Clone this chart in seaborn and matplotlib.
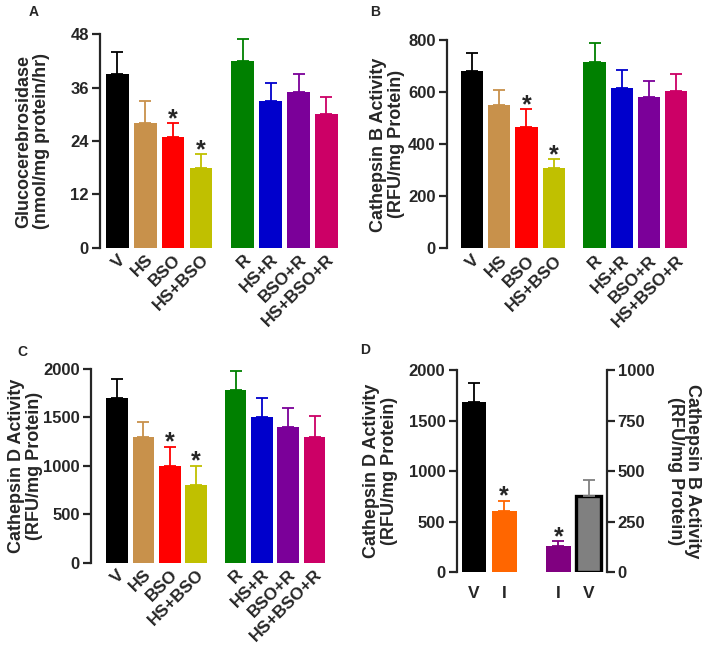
import matplotlib
matplotlib.use("Agg")
import matplotlib.pyplot as plt
import seaborn as sns
import pandas as pd

# groups and bar colours for panels A-C
groups = ["V", "HS", "BSO", "HS+BSO", "R", "HS+R", "BSO+R", "HS+BSO+R"]
xpos = [0, 1, 2, 3, 4.5, 5.5, 6.5, 7.5]
colors = ["#000000", "#C8914B", "#FF0000", "#C0C000",
          "#008000", "#0000CC", "#7B0099", "#CC0066"]
stars = [False, False, True, True, False, False, False, False]

# panel A - glucocerebrosidase
gcase_mean = [39, 28, 25, 18, 42, 33, 35, 30]
gcase_err = [5, 5, 3, 3, 5, 4, 4, 4]
# panel B - cathepsin B
catb_mean = [680, 550, 468, 308, 718, 618, 580, 603]
catb_err = [72, 57, 67, 35, 72, 67, 64, 69]
# panel C - cathepsin D
catd_mean = [1700, 1300, 1000, 800, 1780, 1500, 1400, 1300]
catd_err = [200, 150, 200, 200, 195, 200, 200, 220]

# panel D - two scales
d_labels = ["V", "I", "I", "V"]
d_pos = [0, 1, 2.8, 3.8]
d_colors = ["#000000", "#FF6600", "#800080", "#808080"]
d_stars = [False, True, True, False]
d_catd_mean = [1680, 600]
d_catd_err = [195, 108]
d_catb_mean = [127, 375]
d_catb_err = [26, 80]

sns.set_style("ticks")
plt.rcParams["font.family"] = ["Liberation Sans", "DejaVu Sans"]
plt.rcParams["font.weight"] = "bold"
plt.rcParams["axes.labelweight"] = "bold"


def draw_bars(ax, pos, means, errs, cols, sig):
    df = pd.DataFrame({"x": pos, "y": means, "g": [str(i) for i in range(len(pos))]})
    sns.barplot(data=df, x="x", y="y", hue="g", palette=cols, native_scale=True,
                saturation=1, width=0.82, legend=False, linewidth=0, ax=ax)
    for i in range(len(pos)):
        ax.errorbar(pos[i], means[i], yerr=[[0], [errs[i]]], fmt="none",
                    ecolor=cols[i], elinewidth=1.3, capsize=4.5, capthick=1.3)
        if sig[i]:
            ax.annotate("*", (pos[i], means[i] + errs[i]), xytext=(0, -2),
                        textcoords="offset points", ha="center", va="baseline",
                        fontsize=18, fontweight="bold")


def style_axis(ax, ylim, yticks, ylabel, labelx):
    ax.set_ylim(ylim)
    ax.set_yticks(yticks)
    ax.set_ylabel(ylabel, fontsize=13, linespacing=1.05)
    ax.yaxis.set_label_coords(labelx, 0.5)
    ax.set_xlabel("")
    sns.despine(ax=ax, bottom=True)
    ax.spines["left"].set_linewidth(1.6)
    ax.tick_params(axis="y", width=1.6, length=6, labelsize=12, pad=2)
    ax.tick_params(axis="x", length=0, labelsize=12.5, pad=3)


def group_panel(rect, means, errs, ylim, yticks, ylabel, xlim, labelx):
    ax = fig.add_axes(rect)
    draw_bars(ax, xpos, means, errs, colors, stars)
    style_axis(ax, ylim, yticks, ylabel, labelx)
    ax.set_xticks(xpos)
    ax.set_xticklabels(groups, rotation=45, ha="right", rotation_mode="anchor")
    ax.set_xlim(xlim)
    return ax


fig = plt.figure(figsize=(7.09, 6.59), dpi=100)

group_panel([0.141, 0.624, 0.336, 0.324], gcase_mean, gcase_err, (0, 48),
            [0, 12, 24, 36, 48], "Glucocerebrosidase\n(nmol/mg protein/hr)",
            (-0.62, 7.92), -0.21)
group_panel([0.630, 0.623, 0.340, 0.316], catb_mean, catb_err, (0, 800),
            [0, 200, 400, 600, 800], "Cathepsin B Activity\n(RFU/mg Protein)",
            (-0.93, 7.92), -0.173)
group_panel([0.128, 0.146, 0.332, 0.294], catd_mean, catd_err, (0, 2000),
            [0, 500, 1000, 1500, 2000], "Cathepsin D Activity\n(RFU/mg Protein)",
            (-1.0, 7.94), -0.203)

# panel D
axd = fig.add_axes([0.644, 0.132, 0.2116, 0.3065])
axb = axd.twinx()
draw_bars(axd, d_pos[:2], d_catd_mean, d_catd_err, d_colors[:2], d_stars[:2])
draw_bars(axb, d_pos[2:], d_catb_mean, d_catb_err, d_colors[2:], d_stars[2:])
style_axis(axd, (0, 2000), [0, 500, 1000, 1500, 2000],
           "Cathepsin D Activity\n(RFU/mg Protein)", -0.391)
axb.set_ylim(0, 1000)
axb.set_yticks([0, 250, 500, 750, 1000])
axb.set_ylabel("Cathepsin B Activity\n(RFU/mg Protein)", fontsize=13,
               linespacing=1.05, rotation=270, va="bottom")
axb.yaxis.set_label_coords(1.40, 0.5)
sns.despine(ax=axb, left=True, bottom=True, right=False)
axb.yaxis.set_ticks_position("right")
axb.spines["right"].set_linewidth(1.6)
axb.tick_params(axis="y", width=1.6, length=6, labelsize=12, pad=2)
# grey bar has a heavy black outline
axb.patches[-1].set_edgecolor("black")
axb.patches[-1].set_linewidth(2.4)
axd.set_xticks(d_pos)
axd.set_xticklabels(d_labels)
axd.tick_params(axis="x", length=0, labelsize=12.5, pad=10)
axd.set_xlim(-0.58, 4.4)

for letter, x, y in [("A", 0.040, 0.992), ("B", 0.522, 0.992),
                     ("C", 0.024, 0.477), ("D", 0.508, 0.479)]:
    fig.text(x, y, letter, fontsize=10, fontweight="bold", va="top")

fig.savefig("out.png", dpi=100)
